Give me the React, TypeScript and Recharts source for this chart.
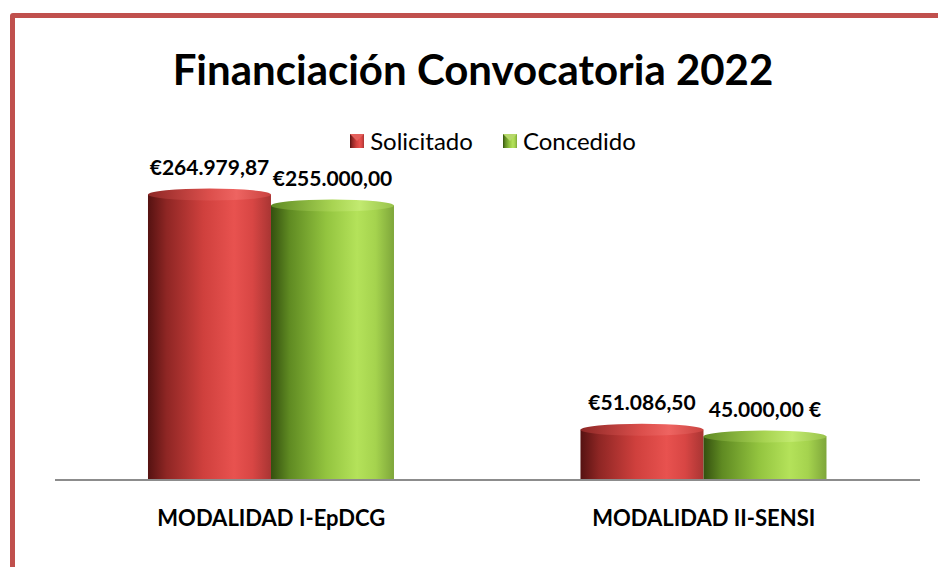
import React from "react";
import { BarChart, Bar, XAxis, YAxis, LabelList } from "recharts";

const categories = ["MODALIDAD I-EpDCG", "MODALIDAD II-SENSI"];
const solicitado = [264979.87, 51086.5];
const concedido = [255000, 45000];
const solicitadoLabels = ["€264.979,87", "€51.086,50"];
const concedidoLabels = ["€255.000,00", "45.000,00 €"];

const data = categories.map((name, i) => ({
  name,
  solicitado: solicitado[i],
  concedido: concedido[i],
}));

const FONT = "Lato, 'Open Sans', sans-serif";

function Cylinder(props: any) {
  const { x, y, width, height, gid } = props;
  if (!height || height <= 0) return null;
  const ry = 6;
  const rx = width / 2;
  const bottom = y + height;
  const body = `M${x},${y + ry} L${x},${bottom} L${x + width},${bottom} L${x + width},${y + ry} Z`;
  return (
    <g>
      <path d={body} fill={`url(#${gid}-body)`} />
      <ellipse cx={x + rx} cy={y + ry} rx={rx} ry={ry} fill={`url(#${gid}-cap)`} />
    </g>
  );
}

function makeLabel(labels: string[]) {
  return (props: any) => {
    const { x, y, width, index } = props;
    return (
      <text
        x={x + width / 2}
        y={y - 14}
        textAnchor="middle"
        fontFamily={FONT}
        fontWeight={700}
        fontSize={21}
        fill="#000"
      >
        {labels[index]}
      </text>
    );
  };
}

function ChartLegend() {
  const items = [
    { label: "Solicitado", gid: "red" },
    { label: "Concedido", gid: "green" },
  ];
  return (
    <div
      style={{
        position: "absolute",
        top: 126,
        left: 20,
        width: 946,
        display: "flex",
        justifyContent: "center",
        gap: 30,
        fontFamily: FONT,
        fontSize: 24,
        color: "#000",
      }}
    >
      {items.map((it) => (
        <div key={it.label} style={{ display: "flex", alignItems: "center", gap: 6 }}>
          <svg width={14} height={14}>
            <rect x={0} y={0} width={14} height={14} fill={`url(#${it.gid}-body)`} />
            <polygon points="0,0 14,0 7,7" fill={it.gid === "red" ? "#e4605c" : "#b6d86a"} />
          </svg>
          <span>{it.label}</span>
        </div>
      ))}
    </div>
  );
}

export default function App() {
  return (
    <div
      style={{
        position: "relative",
        width: 946,
        height: 575,
        margin: -8,
        overflow: "hidden",
        background: "#fff",
      }}
    >
      <div
        style={{
          position: "absolute",
          left: 10,
          top: 13,
          width: 1000,
          height: 700,
          border: "5px solid #C0504D",
          borderRadius: 3,
          boxSizing: "border-box",
        }}
      />
      <div
        style={{
          position: "absolute",
          top: 44,
          left: 0,
          width: 946,
          textAlign: "center",
          fontFamily: FONT,
          fontWeight: 700,
          fontSize: 42,
          color: "#000",
        }}
      >
        Financiación Convocatoria 2022
      </div>
      <div style={{ position: "absolute", left: 0, top: 0 }}>
        <BarChart
          width={946}
          height={575}
          data={data}
          margin={{ top: 150, right: 26, bottom: 65, left: 55 }}
          barCategoryGap="21.5%"
          barGap={0}
        >
          <defs>
            <linearGradient id="red-body" x1="0" y1="0" x2="1" y2="0">
              <stop offset="0%" stopColor="#551211" />
              <stop offset="15%" stopColor="#8e2624" />
              <stop offset="45%" stopColor="#cf403d" />
              <stop offset="70%" stopColor="#e8524f" />
              <stop offset="85%" stopColor="#d84644" />
              <stop offset="100%" stopColor="#a93533" />
            </linearGradient>
            <linearGradient id="red-cap" x1="0" y1="0" x2="1" y2="0">
              <stop offset="0%" stopColor="#8e2826" />
              <stop offset="50%" stopColor="#dc4f4c" />
              <stop offset="72%" stopColor="#ee6461" />
              <stop offset="100%" stopColor="#c94340" />
            </linearGradient>
            <linearGradient id="green-body" x1="0" y1="0" x2="1" y2="0">
              <stop offset="0%" stopColor="#34500f" />
              <stop offset="15%" stopColor="#5f8a22" />
              <stop offset="45%" stopColor="#93c43f" />
              <stop offset="70%" stopColor="#b4e25a" />
              <stop offset="85%" stopColor="#a5d34e" />
              <stop offset="100%" stopColor="#7ea63a" />
            </linearGradient>
            <linearGradient id="green-cap" x1="0" y1="0" x2="1" y2="0">
              <stop offset="0%" stopColor="#5f8a24" />
              <stop offset="50%" stopColor="#a8d452" />
              <stop offset="72%" stopColor="#c2ea70" />
              <stop offset="100%" stopColor="#98c24a" />
            </linearGradient>
          </defs>
          <XAxis
            dataKey="name"
            tickLine={false}
            axisLine={{ stroke: "#8c8c8c", strokeWidth: 2 }}
            tickMargin={24}
            tick={{ fontFamily: FONT, fontWeight: 700, fontSize: 22, fill: "#000" }}
            interval={0}
          />
          <YAxis hide domain={[0, 300000]} />
          <Bar
            dataKey="solicitado"
            name="Solicitado"
            isAnimationActive={false}
            shape={(p: any) => <Cylinder {...p} gid="red" />}
          >
            <LabelList dataKey="solicitado" content={makeLabel(solicitadoLabels)} />
          </Bar>
          <Bar
            dataKey="concedido"
            name="Concedido"
            isAnimationActive={false}
            shape={(p: any) => <Cylinder {...p} gid="green" />}
          >
            <LabelList dataKey="concedido" content={makeLabel(concedidoLabels)} />
          </Bar>
        </BarChart>
      </div>
      <ChartLegend />
    </div>
  );
}
